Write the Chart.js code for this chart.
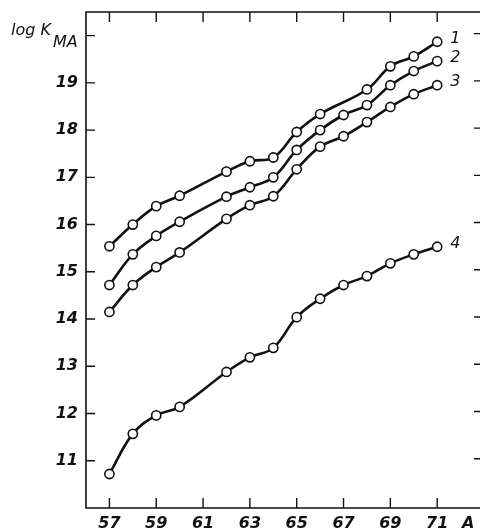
<!DOCTYPE html>
<html>
<head>
<meta charset="utf-8">
<script src="https://cdn.jsdelivr.net/npm/chart.js@4"></script>
<style>
  html, body { margin: 0; padding: 0; background: #fff; overflow: hidden; }
  #wrap { width: 480px; height: 532px; overflow: hidden; }
</style>
</head>
<body>
<div id="wrap"><canvas id="chart" width="484" height="532"></canvas></div>
<script>
// mass number A (61 was not measured)
const massNumbers = [57, 58, 59, 60, 62, 63, 64, 65, 66, 67, 68, 69, 70, 71];

// log K_MA per curve, null = no point
const curve1 = [15.54, 16.0, 16.39, 16.61, 17.12, 17.34, 17.42, 17.96, 18.34, null, 18.86, 19.35, 19.56, 19.87];
const curve2 = [14.72, 15.37, 15.76, 16.06, 16.59, 16.79, 17.0, 17.58, 18.0, 18.32, 18.53, 18.95, 19.25, 19.46];
const curve3 = [14.15, 14.72, 15.10, 15.41, 16.12, 16.41, 16.60, 17.17, 17.65, 17.87, 18.17, 18.49, 18.76, 18.95];
const curve4 = [10.72, 11.57, 11.96, 12.14, 12.88, 13.19, 13.39, 14.04, 14.43, 14.72, 14.91, 15.18, 15.37, 15.53];

const curveNames = ["1", "2", "3", "4"];
const xTicks = [57, 59, 61, 63, 65, 67, 69, 71];
const yTicks = [11, 12, 13, 14, 15, 16, 17, 18, 19, 20];
const yLabelled = [11, 12, 13, 14, 15, 16, 17, 18, 19];

const INK = "#111";
const tickFont = { family: "DejaVu Sans", size: 16, style: "italic", weight: "bold" };

const toPoints = (ys) =>
  massNumbers.map((a, i) => ({ x: a, y: ys[i] })).filter((p) => p.y !== null);

const datasets = [curve1, curve2, curve3, curve4].map((ys, i) => ({
  label: curveNames[i],
  data: toPoints(ys),
  borderColor: INK,
  borderWidth: 2.6,
  tension: 0.4,
  pointRadius: 4.6,
  pointBorderWidth: 1.6,
  pointBackgroundColor: "#fff",
  pointBorderColor: INK,
  clip: false,
}));

// frame with inward ticks, axis titles and curve numbers
const framePlugin = {
  id: "frame",
  afterDraw(chart) {
    const { ctx, chartArea: a, scales } = chart;
    const x = scales.x, y = scales.y;
    ctx.save();
    ctx.strokeStyle = INK;
    ctx.lineWidth = 1.6;
    ctx.beginPath();
    ctx.rect(a.left, a.top, a.right - a.left, a.bottom - a.top);
    ctx.stroke();

    ctx.lineWidth = 1.4;
    ctx.beginPath();
    xTicks.forEach((v) => {
      const px = x.getPixelForValue(v);
      ctx.moveTo(px, a.bottom); ctx.lineTo(px, a.bottom - 10);
      ctx.moveTo(px, a.top); ctx.lineTo(px, a.top + 10);
    });
    yTicks.forEach((v) => {
      const py = y.getPixelForValue(v);
      ctx.moveTo(a.left, py); ctx.lineTo(a.left + 9, py);
      ctx.moveTo(a.right, py - 2); ctx.lineTo(a.right - 10, py - 2);
    });
    ctx.stroke();

    ctx.fillStyle = INK;
    ctx.textBaseline = "middle";
    ctx.textAlign = "left";
    ctx.font = "italic 16px 'DejaVu Sans'";
    ctx.fillText("log K", 11, 31);
    ctx.fillText("MA", 53, 43);
    ctx.font = "italic bold 16px 'DejaVu Sans'";
    ctx.fillText("A", 462, 524);

    ctx.font = "italic 16px 'DejaVu Sans'";
    chart.data.datasets.forEach((ds) => {
      const last = ds.data[ds.data.length - 1];
      ctx.fillText(ds.label, x.getPixelForValue(last.x) + 13, y.getPixelForValue(last.y) - 3);
    });
    ctx.restore();
  },
};

new Chart(document.getElementById("chart"), {
  type: "line",
  data: { datasets },
  options: {
    responsive: false,
    animation: false,
    layout: { autoPadding: false, padding: { top: 12, right: 0, left: 0, bottom: 0 } },
    plugins: { legend: { display: false }, tooltip: { enabled: false } },
    scales: {
      x: {
        type: "linear",
        min: 56,
        max: 73,
        grid: { display: false, drawTicks: false },
        border: { display: false },
        afterBuildTicks: (s) => { s.ticks = xTicks.map((v) => ({ value: v })); },
        afterFit: (s) => { s.height = 24; s.paddingLeft = 0; s.paddingRight = 0; },
        ticks: { color: INK, font: tickFont, padding: 6, maxRotation: 0, autoSkip: false },
      },
      y: {
        min: 10,
        max: 20.5,
        grid: { display: false, drawTicks: false },
        border: { display: false },
        afterBuildTicks: (s) => { s.ticks = yTicks.map((v) => ({ value: v })); },
        afterFit: (s) => { s.width = 86; s.paddingTop = 0; s.paddingBottom = 0; },
        ticks: {
          color: INK,
          font: tickFont,
          padding: 8,
          autoSkip: false,
          callback: (v) => (yLabelled.includes(v) ? String(v) : ""),
        },
      },
    },
  },
  plugins: [framePlugin],
});
</script>
</body>
</html>
